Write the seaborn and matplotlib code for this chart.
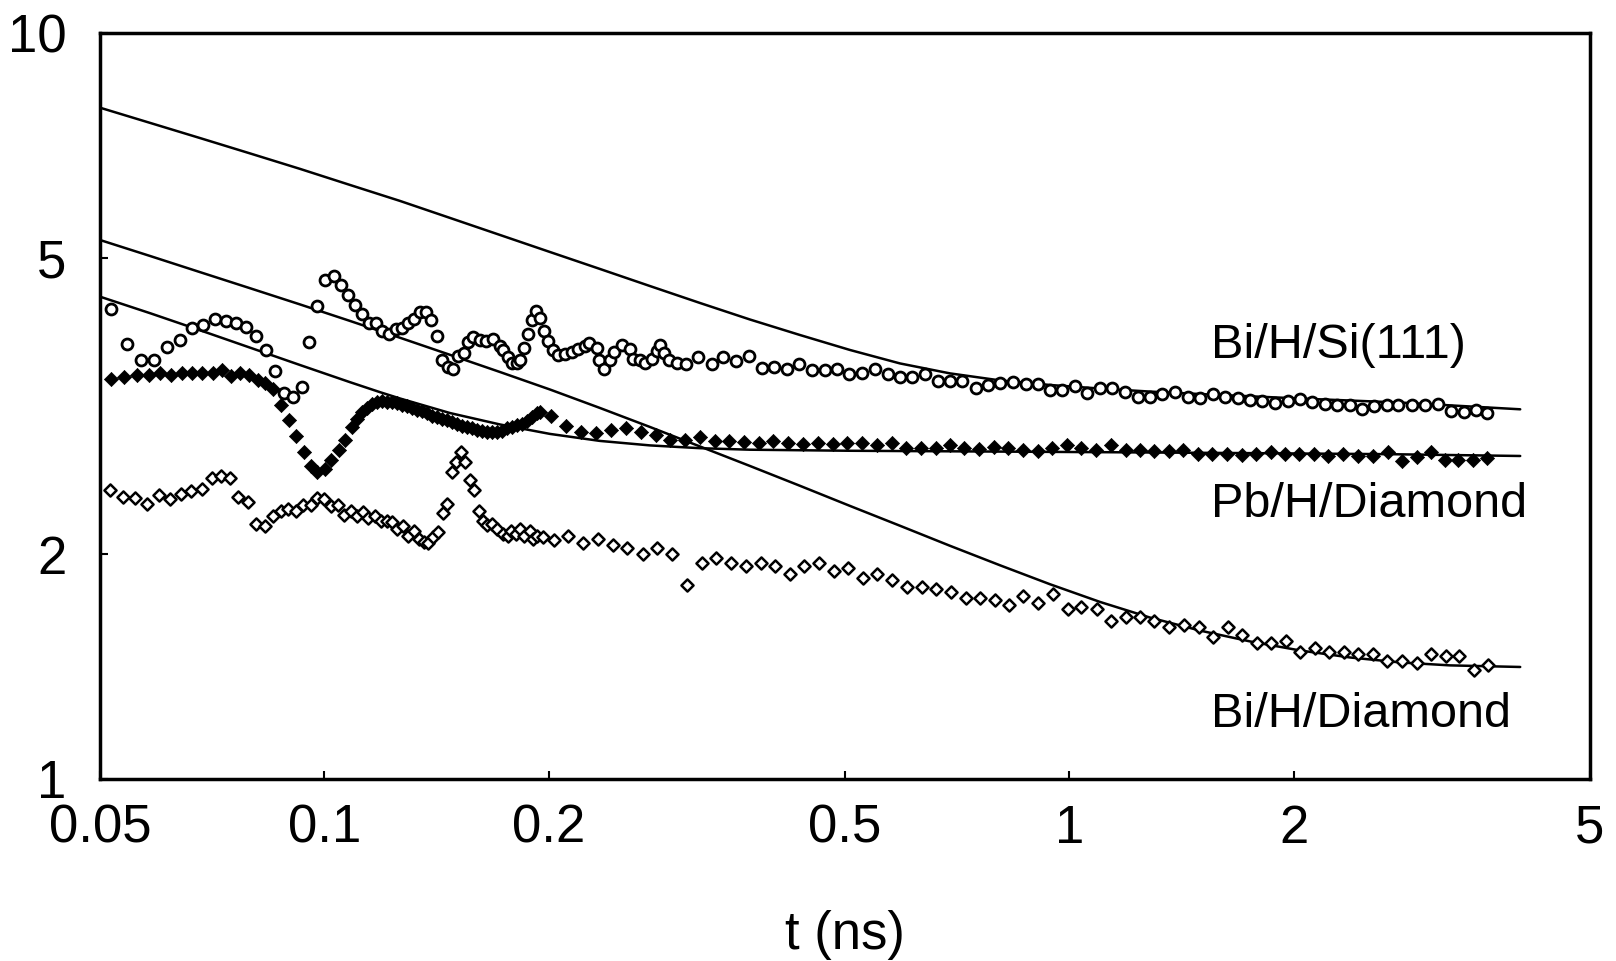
import matplotlib
matplotlib.use("Agg")
import matplotlib.pyplot as plt
import seaborn as sns

# Bi/H/Si(111) data (open circles)
si_t = [0.0518, 0.0543, 0.0567, 0.0591, 0.0615, 0.0640, 0.0664, 0.0688, 0.0714, 0.0737,
        0.0761, 0.0785, 0.0810, 0.0835, 0.0859, 0.0883, 0.0907, 0.0932, 0.0955, 0.0979,
        0.1003, 0.1029, 0.1052, 0.1076, 0.1101, 0.1125, 0.1149, 0.1173, 0.1195, 0.1222,
        0.1247, 0.1272, 0.1296, 0.1320, 0.1345, 0.1370, 0.1392, 0.1417, 0.1441, 0.1467,
        0.1490, 0.1514, 0.1541, 0.1560, 0.1585, 0.1618, 0.1648, 0.1684, 0.1721, 0.1740,
        0.1766, 0.1784, 0.1812, 0.1831, 0.1854, 0.1877, 0.1899, 0.1926, 0.1948, 0.1974,
        0.1999, 0.2030, 0.2062, 0.2105, 0.2149, 0.2193, 0.2239, 0.2269, 0.2322, 0.2339,
        0.2371, 0.2419, 0.2449, 0.2508, 0.2573, 0.2594, 0.2653, 0.2694, 0.2751, 0.2793,
        0.2823, 0.2860, 0.2905, 0.2972, 0.3060, 0.3178, 0.3313, 0.3434, 0.3571, 0.3717,
        0.3870, 0.4016, 0.4176, 0.4341, 0.4515, 0.4695, 0.4873, 0.5059, 0.5275, 0.5486,
        0.5705, 0.5926, 0.6155, 0.6403, 0.6659, 0.6916, 0.7184, 0.7489, 0.7772, 0.8073,
        0.8397, 0.8740, 0.9070, 0.9423, 0.9789, 1.018, 1.057, 1.100, 1.142, 1.188,
        1.236, 1.283, 1.333, 1.388, 1.442, 1.498, 1.558, 1.618, 1.682, 1.748,
        1.815, 1.886, 1.964, 2.040, 2.119, 2.204, 2.290, 2.382, 2.474, 2.567,
        2.667, 2.764, 2.881, 3.002, 3.121, 3.253, 3.389, 3.515, 3.633]
si_v = [4.26, 3.83, 3.65, 3.64, 3.79, 3.88, 4.02, 4.06, 4.14, 4.11,
        4.09, 4.03, 3.93, 3.76, 3.52, 3.29, 3.25, 3.35, 3.85, 4.31,
        4.67, 4.73, 4.60, 4.46, 4.32, 4.20, 4.09, 4.08, 3.98, 3.95,
        4.01, 4.02, 4.08, 4.14, 4.22, 4.22, 4.12, 3.92, 3.65, 3.57,
        3.55, 3.69, 3.72, 3.85, 3.91, 3.88, 3.86, 3.89, 3.80, 3.76,
        3.68, 3.61, 3.61, 3.65, 3.78, 3.95, 4.12, 4.24, 4.15, 3.98,
        3.87, 3.76, 3.70, 3.71, 3.74, 3.77, 3.80, 3.84, 3.78, 3.65,
        3.55, 3.64, 3.73, 3.82, 3.77, 3.66, 3.64, 3.61, 3.66, 3.75,
        3.82, 3.72, 3.65, 3.61, 3.60, 3.68, 3.60, 3.68, 3.63, 3.69,
        3.56, 3.57, 3.54, 3.60, 3.53, 3.53, 3.54, 3.49, 3.50, 3.55,
        3.49, 3.46, 3.46, 3.49, 3.42, 3.42, 3.42, 3.34, 3.37, 3.39,
        3.41, 3.38, 3.38, 3.32, 3.32, 3.36, 3.29, 3.34, 3.34, 3.30,
        3.25, 3.25, 3.28, 3.30, 3.25, 3.24, 3.28, 3.25, 3.24, 3.22,
        3.21, 3.19, 3.21, 3.23, 3.20, 3.18, 3.17, 3.17, 3.13, 3.16,
        3.17, 3.17, 3.17, 3.17, 3.18, 3.11, 3.10, 3.12, 3.09]

# Pb/H/Diamond data (filled diamonds)
pb_t = [0.0517, 0.0539, 0.0560, 0.0581, 0.0602, 0.0622, 0.0644, 0.0665, 0.0686, 0.0708,
        0.0728, 0.0750, 0.0771, 0.0792, 0.0814, 0.0833, 0.0854, 0.0875, 0.0897, 0.0917,
        0.0939, 0.0960, 0.0978, 0.1001, 0.1022, 0.1045, 0.1067, 0.1089, 0.1106, 0.1123,
        0.1140, 0.1158, 0.1176, 0.1194, 0.1213, 0.1232, 0.1251, 0.1271, 0.1290, 0.1311,
        0.1331, 0.1352, 0.1373, 0.1394, 0.1416, 0.1438, 0.1460, 0.1483, 0.1506, 0.1530,
        0.1554, 0.1578, 0.1602, 0.1627, 0.1652, 0.1678, 0.1704, 0.1731, 0.1758, 0.1785,
        0.1813, 0.1841, 0.1870, 0.1899, 0.1928, 0.1948, 0.2015, 0.2108, 0.2208, 0.2314,
        0.2424, 0.2539, 0.2659, 0.2785, 0.2911, 0.3049, 0.3193, 0.3345, 0.3496, 0.3662,
        0.3834, 0.4007, 0.4197, 0.4390, 0.4595, 0.4812, 0.5031, 0.5266, 0.5516, 0.5777,
        0.6038, 0.6319, 0.6619, 0.6916, 0.7230, 0.7567, 0.7924, 0.8282, 0.8675, 0.9070,
        0.9493, 0.9925, 1.037, 1.087, 1.137, 1.191, 1.245, 1.301, 1.362, 1.423,
        1.488, 1.556, 1.627, 1.704, 1.781, 1.864, 1.948, 2.036, 2.133, 2.227,
        2.333, 2.439, 2.553, 2.681, 2.794, 2.927, 3.056, 3.194, 3.328, 3.480, 3.633]
pb_v = [3.44, 3.46, 3.48, 3.48, 3.50, 3.48, 3.50, 3.50, 3.50, 3.50,
        3.53, 3.47, 3.50, 3.48, 3.43, 3.39, 3.33, 3.17, 3.03, 2.88,
        2.74, 2.63, 2.58, 2.60, 2.68, 2.76, 2.85, 2.96, 3.04, 3.10,
        3.14, 3.18, 3.20, 3.21, 3.20, 3.20, 3.19, 3.17, 3.16, 3.14,
        3.12, 3.11, 3.09, 3.07, 3.06, 3.04, 3.03, 3.01, 2.99, 2.97,
        2.96, 2.95, 2.94, 2.93, 2.92, 2.92, 2.92, 2.93, 2.95, 2.96,
        2.98, 2.99, 3.02, 3.06, 3.09, 3.10, 3.07, 2.97, 2.92, 2.91,
        2.94, 2.95, 2.92, 2.89, 2.85, 2.85, 2.87, 2.84, 2.84, 2.83,
        2.82, 2.84, 2.82, 2.81, 2.82, 2.81, 2.82, 2.82, 2.80, 2.82,
        2.78, 2.78, 2.78, 2.80, 2.78, 2.77, 2.79, 2.78, 2.76, 2.75,
        2.78, 2.80, 2.78, 2.76, 2.80, 2.76, 2.76, 2.75, 2.75, 2.76,
        2.73, 2.73, 2.73, 2.72, 2.73, 2.74, 2.73, 2.73, 2.73, 2.71,
        2.73, 2.71, 2.71, 2.74, 2.67, 2.70, 2.74, 2.68, 2.68, 2.68, 2.69]

# Bi/H/Diamond data (open diamonds)
bi_t = [0.0515, 0.0536, 0.0557, 0.0579, 0.0600, 0.0621, 0.0642, 0.0663, 0.0685, 0.0706,
        0.0727, 0.0748, 0.0767, 0.0790, 0.0810, 0.0833, 0.0853, 0.0874, 0.0895, 0.0917,
        0.0937, 0.0959, 0.0979, 0.1000, 0.1020, 0.1044, 0.1062, 0.1085, 0.1106, 0.1126,
        0.1146, 0.1170, 0.1192, 0.1214, 0.1232, 0.1252, 0.1274, 0.1296, 0.1319, 0.1341,
        0.1360, 0.1380, 0.1401, 0.1423, 0.1442, 0.1463, 0.1483, 0.1504, 0.1526, 0.1546,
        0.1567, 0.1588, 0.1611, 0.1633, 0.1652, 0.1678, 0.1708, 0.1737, 0.1763, 0.1783,
        0.1809, 0.1831, 0.1854, 0.1889, 0.1904, 0.1932, 0.1964, 0.2034, 0.2127, 0.2227,
        0.2333, 0.2439, 0.2551, 0.2676, 0.2800, 0.2929, 0.3066, 0.3216, 0.3356, 0.3516,
        0.3678, 0.3852, 0.4027, 0.4215, 0.4408, 0.4613, 0.4826, 0.5046, 0.5290, 0.5524,
        0.5787, 0.6049, 0.6337, 0.6625, 0.6932, 0.7262, 0.7589, 0.7947, 0.8299, 0.8675,
        0.9087, 0.9505, 0.9946, 1.037, 1.089, 1.138, 1.191, 1.245, 1.301, 1.363,
        1.426, 1.491, 1.559, 1.631, 1.704, 1.785, 1.865, 1.951, 2.040, 2.138,
        2.234, 2.338, 2.444, 2.555, 2.667, 2.794, 2.927, 3.059, 3.201, 3.340, 3.498, 3.651]
bi_v = [2.44, 2.39, 2.38, 2.34, 2.40, 2.37, 2.41, 2.43, 2.45, 2.53,
        2.55, 2.53, 2.39, 2.35, 2.20, 2.18, 2.25, 2.29, 2.30, 2.29,
        2.33, 2.33, 2.38, 2.37, 2.32, 2.33, 2.26, 2.29, 2.25, 2.28,
        2.24, 2.25, 2.22, 2.22, 2.21, 2.16, 2.18, 2.12, 2.15, 2.10,
        2.08, 2.07, 2.11, 2.14, 2.27, 2.34, 2.58, 2.66, 2.74, 2.66,
        2.52, 2.44, 2.29, 2.22, 2.19, 2.20, 2.16, 2.13, 2.12, 2.15,
        2.13, 2.16, 2.12, 2.15, 2.10, 2.12, 2.11, 2.09, 2.12, 2.07,
        2.10, 2.06, 2.04, 2.00, 2.04, 2.00, 1.82, 1.95, 1.98, 1.95,
        1.93, 1.95, 1.93, 1.88, 1.93, 1.95, 1.90, 1.92, 1.86, 1.88,
        1.85, 1.81, 1.81, 1.80, 1.78, 1.75, 1.75, 1.74, 1.71, 1.76,
        1.72, 1.77, 1.69, 1.70, 1.69, 1.63, 1.65, 1.65, 1.63, 1.60,
        1.61, 1.60, 1.55, 1.60, 1.56, 1.52, 1.52, 1.53, 1.48, 1.50,
        1.48, 1.48, 1.47, 1.47, 1.44, 1.44, 1.43, 1.47, 1.46, 1.46, 1.40, 1.42]

# fitted curves
fit_si_t = [0.05, 0.0584, 0.0681, 0.0795, 0.0928, 0.1083, 0.1264, 0.1475, 0.1721, 0.2009,
            0.2344, 0.2736, 0.3193, 0.3726, 0.4349, 0.5077, 0.5926, 0.6916, 0.8073, 0.9423,
            1.100, 1.283, 1.498, 2.040, 2.780, 4.03]
fit_si_v = [7.94, 7.575, 7.23, 6.895, 6.573, 6.255, 5.954, 5.65, 5.361, 5.086,
            4.827, 4.579, 4.346, 4.130, 3.937, 3.759, 3.606, 3.497, 3.422, 3.374,
            3.337, 3.306, 3.281, 3.236, 3.196, 3.130]
fit_bi_t = [0.05, 0.0584, 0.0681, 0.0795, 0.0928, 0.1083, 0.1264, 0.1475, 0.1721, 0.2009,
            0.2344, 0.2736, 0.3193, 0.3726, 0.4349, 0.5077, 0.5926, 0.6916, 0.8073, 0.9423,
            1.100, 1.283, 1.498, 1.748, 2.040, 2.382, 2.780, 3.243, 4.03]
fit_bi_v = [5.278, 5.023, 4.780, 4.548, 4.326, 4.111, 3.903, 3.703, 3.512, 3.327,
            3.143, 2.964, 2.791, 2.628, 2.472, 2.323, 2.185, 2.054, 1.934, 1.824,
            1.727, 1.646, 1.581, 1.529, 1.487, 1.455, 1.433, 1.420, 1.413]
fit_pb_t = [0.05, 0.0584, 0.0681, 0.0795, 0.0928, 0.1083, 0.1188, 0.1264, 0.1475, 0.1721,
            0.2009, 0.2344, 0.2736, 0.3193, 0.3726, 0.5077, 0.8073, 1.100, 1.748, 2.694, 4.03]
fit_pb_v = [4.431, 4.210, 3.995, 3.786, 3.588, 3.403, 3.300, 3.236, 3.094, 2.987,
            2.901, 2.839, 2.800, 2.776, 2.763, 2.754, 2.747, 2.742, 2.734, 2.725, 2.710]

labels = ["Bi/H/Si(111)", "Pb/H/Diamond", "Bi/H/Diamond"]
label_y = [3.67, 2.245, 1.174]

sns.set_style("ticks")
plt.rcParams["font.family"] = ["Liberation Sans", "DejaVu Sans"]
plt.rcParams["text.color"] = "black"
plt.rcParams["axes.labelcolor"] = "black"
plt.rcParams["xtick.color"] = "black"
plt.rcParams["ytick.color"] = "black"

fig = plt.figure(figsize=(16.16, 9.61), dpi=100)
ax = fig.add_axes([0.0619, 0.1894, 0.9220, 0.7763])

for t, v in [(fit_si_t, fit_si_v), (fit_bi_t, fit_bi_v), (fit_pb_t, fit_pb_v)]:
    sns.lineplot(x=t, y=v, ax=ax, color="black", linewidth=1.8, sort=False, estimator=None)

sns.scatterplot(x=si_t, y=si_v, ax=ax, marker="o", s=62, facecolor="white",
                edgecolor="black", linewidth=2.0, zorder=3)
sns.scatterplot(x=pb_t, y=pb_v, ax=ax, marker="D", s=52, color="black",
                edgecolor="black", linewidth=0.5, zorder=3)
sns.scatterplot(x=bi_t, y=bi_v, ax=ax, marker="D", s=38, facecolor="white",
                edgecolor="black", linewidth=1.8, zorder=3)

ax.set_xscale("log")
ax.set_yscale("log")
ax.set_xlim(0.05, 5)
ax.set_ylim(1, 10)

xt = [0.05, 0.1, 0.2, 0.5, 1, 2, 5]
ax.set_xticks(xt)
ax.set_xticklabels(["0.05", "0.1", "0.2", "0.5", "1", "2", "5"])
yt = [1, 2, 5, 10]
ax.set_yticks(yt)
ax.set_yticklabels(["1", "2", "5", "10"])
ax.minorticks_off()
ax.tick_params(axis="both", direction="in", length=6, width=1.5, labelsize=38)
ax.tick_params(axis="x", pad=18)
ax.tick_params(axis="y", pad=24)

for sp in ax.spines.values():
    sp.set_linewidth(2.5)
    sp.set_color("black")
    sp.set_visible(True)

ax.set_xlabel("t (ns)", fontsize=38, labelpad=40)
ax.set_ylabel("")

for lab, y in zip(labels, label_y):
    ax.text(1.55, y, lab, fontsize=35, ha="left", va="baseline")

fig.savefig("out.png", dpi=100)
